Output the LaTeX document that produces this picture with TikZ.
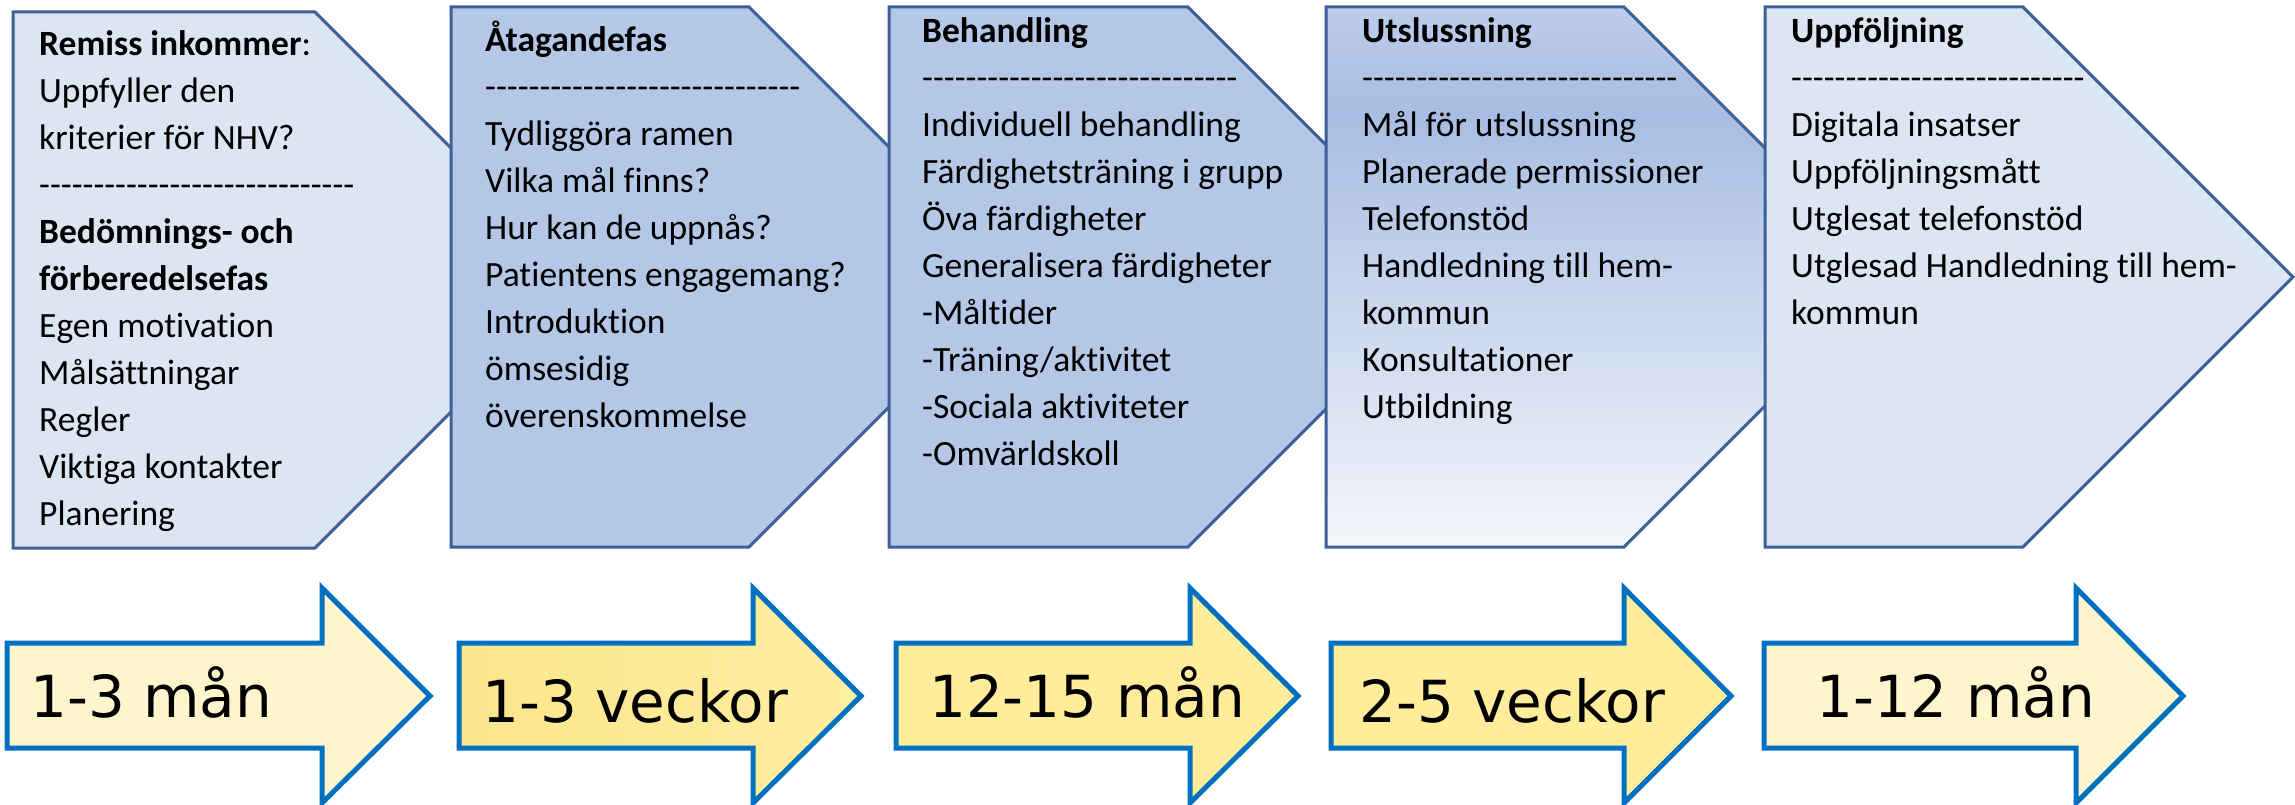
\documentclass[tikz,border=0pt]{standalone}
\usepackage{fontspec}
\setmainfont{Carlito}[Ligatures={TeX,NoCommon}]
\newfontfamily\spanfont{DejaVu Sans}

% colours of the phase boxes and the duration arrows
\definecolor{phaseedge}{HTML}{3C6098}
\definecolor{palephase}{HTML}{DCE6F2}
\definecolor{midphase}{HTML}{B4C7E7}
\definecolor{utslTop}{HTML}{BDCCEA}
\definecolor{utslBand}{HTML}{A8BDE3}
\definecolor{utslBottom}{HTML}{F4F6FB}
\definecolor{spanedge}{HTML}{0070C0}
\definecolor{paleyellow}{HTML}{FFF5CD}
\definecolor{yellow}{HTML}{FFED9B}
\definecolor{yellowdark}{HTML}{FCE58C}
\definecolor{yellowlight}{HTML}{FFEFA3}

% vertical gradient of the "Utslussning" box (path spans 25bp..75bp)
\pgfdeclareverticalshading{utslshade}{100bp}{%
  color(0bp)=(utslBottom);color(25bp)=(utslBottom);%
  color(65bp)=(utslBand);color(75bp)=(utslTop);color(100bp)=(utslTop)}

% a row of separate hyphens (no dash ligatures)
\newcount\dashcnt
\newcommand\dashrow[1]{\dashcnt=0 \loop\ifnum\dashcnt<#1 \advance\dashcnt by 1 \mbox{-}\repeat}

% chevron box: left x, top y, end of flat top, tip x, mid y, bottom y
\newcommand\phasebox[7]{%
  \path[phase,#7] (#1,#2) -- (#3,#2) -- (#4,#5) -- (#3,#6) -- (#1,#6) -- cycle;}
% block arrow: left x, head base x, tip x
\newcommand\spanarrow[4]{%
  \path[span,#4] (#1,643) -- (#2,643) -- (#2,588) -- (#3,696) -- (#2,803)
     -- (#2,748) -- (#1,748) -- cycle;}

\begin{document}
\begin{tikzpicture}[x=1pt,y=-1pt,
  phase/.style={draw=phaseedge,line width=3pt,line join=miter},
  span/.style={draw=spanedge,line width=5pt,line join=miter},
  % multi-line text: the base anchor sits on the last line
  phasetext/.style={anchor=base west,inner sep=0pt,align=left,
    font=\fontsize{35.5}{47}\selectfont,text=black},
  spantext/.style={anchor=base west,inner sep=0pt,
    font=\spanfont\fontsize{58}{70}\selectfont,text=black}]

\useasboundingbox (0,0) rectangle (2295,805);
\fill[white] (0,0) rectangle (2295,805);

% phase boxes, each one overlapping the tip of the previous one
\phasebox{13}{12}{315}{583}{280}{548}{fill=palephase}
\phasebox{451}{7}{749}{1019}{277}{547}{fill=midphase}
\phasebox{889}{7}{1188}{1458}{277}{547}{fill=midphase}
\phasebox{1326}{7}{1624}{1894}{277}{547}{shading=utslshade}
\phasebox{1765}{7}{2023}{2293}{277}{547}{fill=palephase}

\node[phasetext] (t1) at (39,525) {%
  {\bfseries Remiss inkommer}:\\
  Uppfyller den\\
  kriterier för NHV?\\
  \dashrow{29}\\
  {\bfseries Bedömnings- och}\\
  {\bfseries förberedelsefas}\\
  Egen motivation\\
  Målsättningar\\
  Regler\\
  Viktiga kontakter\\
  Planering};

\node[phasetext] (t2) at (485,427) {%
  {\bfseries Åtagandefas}\\
  \dashrow{29}\\
  Tydliggöra ramen\\
  Vilka mål finns?\\
  Hur kan de uppnås?\\
  Patientens engagemang?\\
  Introduktion\\
  ömsesidig\\
  överenskommelse};

\node[phasetext] (t3) at (922,465) {%
  {\bfseries Behandling}\\
  \dashrow{29}\\
  Individuell behandling\\
  Färdighetsträning i grupp\\
  Öva färdigheter\\
  Generalisera färdigheter\\
  -Måltider\\
  -Träning/aktivitet\\
  -Sociala aktiviteter\\
  -Omvärldskoll};

\node[phasetext] (t4) at (1362,418) {%
  {\bfseries Utslussning}\\
  \dashrow{29}\\
  Mål för utslussning\\
  Planerade permissioner\\
  Telefonstöd\\
  Handledning till hem-\\
  kommun\\
  Konsultationer\\
  Utbildning};

\node[phasetext] (t5) at (1791,324) {%
  {\bfseries Uppföljning}\\
  \dashrow{27}\\
  Digitala insatser\\
  Uppföljningsmått\\
  Utglesat telefonstöd\\
  Utglesad Handledning till hem-\\
  kommun};

% duration arrows
\spanarrow{7}{322}{430}{fill=paleyellow}
\spanarrow{459}{753}{861}{left color=yellowdark,right color=yellowlight}
\spanarrow{896}{1190}{1298}{fill=yellow}
\spanarrow{1331}{1624}{1731}{fill=yellow}
\spanarrow{1764}{2076}{2183}{fill=paleyellow}

\node[spantext] (a1) at (30,717) {1-3 mån};
\node[spantext] (a2) at (482,722) {1-3 veckor};
\node[spantext] (a3) at (929,717) {12-15 mån};
\node[spantext] (a4) at (1359,722) {2-5 veckor};
\node[spantext] (a5) at (1816,717) {1-12 mån};
\end{tikzpicture}
\end{document}
